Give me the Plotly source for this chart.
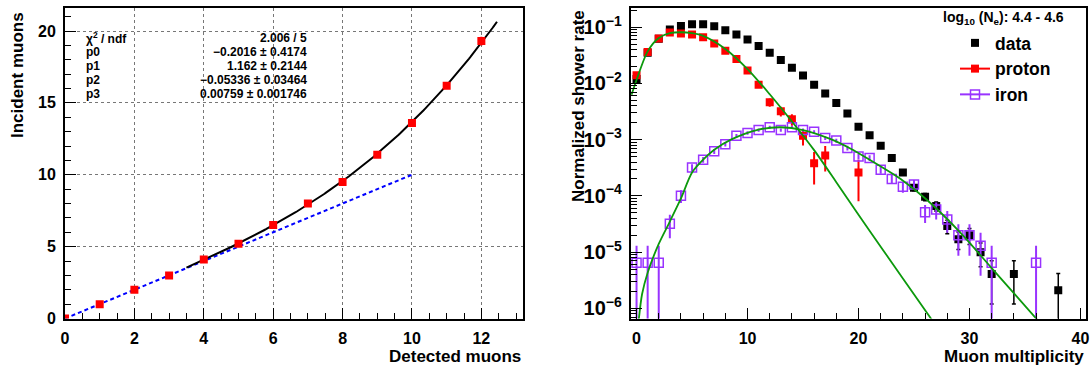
import plotly.graph_objects as go
import numpy as np

# ---------------- Left panel data ----------------
detected = [0, 1, 2, 3, 4, 5, 6, 7, 8, 9, 10, 11, 12]
incident = [0.0, 1.0, 2.0, 3.0, 4.1, 5.2, 6.5, 8.0, 9.5, 11.4, 13.6, 16.2, 19.3]
incident_err = [0, 0, 0, 0, 0.05, 0.05, 0.08, 0.1, 0.1, 0.15, 0.15, 0.2, 0.3]
fit_names = ["p0", "p1", "p2", "p3"]
fit_params = [-0.2016, 1.162, -0.05336, 0.00759]
fit_errors = [0.4174, 0.2144, 0.03464, 0.001746]
fit_range = [3.5, 12.45]
chi2_ndf = "2.006 / 5"
linear_x = [0, 10]
linear_y = [0, 10]

# ---------------- Right panel data ----------------
mult_data = list(range(0, 33)) + [34, 38]
data_rate = [0.012, 0.035, 0.062, 0.091, 0.105, 0.113, 0.113, 0.104, 0.088, 0.074,
             0.060, 0.046, 0.035, 0.026, 0.019, 0.0138, 0.0095, 0.0066, 0.0045, 0.0029,
             0.0017, 0.0012, 0.00078, 0.00047, 0.00026, 0.00014, 9.6e-5, 6.6e-5, 2.9e-5, 1.7e-5,
             2.0e-5, 1.0e-5, 4.1e-6, 4.1e-6, 2.1e-6]
data_err = [1.6e-4, 2.7e-4, 3.6e-4, 4.3e-4, 4.6e-4, 4.8e-4, 4.8e-4, 4.6e-4, 4.2e-4, 3.9e-4,
            3.5e-4, 3.1e-4, 2.7e-4, 2.3e-4, 2.0e-4, 1.7e-4, 1.4e-4, 1.2e-4, 9.6e-5, 7.7e-5,
            5.9e-5, 5.0e-5, 4.0e-5, 3.1e-5, 2.3e-5, 1.7e-5, 1.4e-5, 1.2e-5, 7.7e-6, 5.9e-6,
            6.4e-6, 4.5e-6, 2.9e-6, 2.9e-6, 2.05e-6]

mult_proton = list(range(0, 18)) + [20]
proton_rate = [0.0139, 0.036, 0.063, 0.080, 0.077, 0.074, 0.066, 0.051, 0.038, 0.027,
               0.017, 0.0095, 0.0046, 0.0032, 0.0023, 0.00117, 0.00038, 0.00052, 0.00026]
proton_err = [1.3e-3, 2.1e-3, 2.8e-3, 3.2e-3, 3.1e-3, 3.0e-3, 2.9e-3, 2.5e-3, 2.2e-3, 1.8e-3,
              1.5e-3, 1.1e-3, 7.6e-4, 6.3e-4, 5.4e-4, 3.8e-4, 2.2e-4, 2.5e-4, 1.8e-4]

mult_iron = list(range(0, 33)) + [36]
iron_rate = [6.5e-6, 6.5e-6, 6.5e-6, 3.2e-5, 1.0e-4, 3.2e-4, 4.4e-4, 6.2e-4, 8.3e-4, 1.17e-3,
             1.31e-3, 1.48e-3, 1.66e-3, 1.48e-3, 1.66e-3, 1.48e-3, 1.38e-3, 1.07e-3, 9.6e-4, 7.1e-4,
             5.0e-4, 4.7e-4, 2.9e-4, 2.0e-4, 1.45e-4, 1.6e-4, 5.1e-5, 5.7e-5, 3.8e-5, 2.0e-5,
             2.0e-5, 1.3e-5, 6.5e-6, 6.5e-6]
iron_err = [6.5e-6, 6.5e-6, 6.5e-6, 1.44e-5, 2.55e-5, 4.6e-5, 5.3e-5, 6.3e-5, 7.3e-5, 8.7e-5,
            9.2e-5, 9.8e-5, 1.04e-4, 9.8e-5, 1.04e-4, 9.8e-5, 9.5e-5, 8.3e-5, 7.9e-5, 6.8e-5,
            5.7e-5, 5.5e-5, 4.3e-5, 3.6e-5, 3.1e-5, 3.2e-5, 1.8e-5, 1.9e-5, 1.6e-5, 1.14e-5,
            1.14e-5, 9.2e-6, 6.5e-6, 6.5e-6]

proton_fit_x = [-0.45, 0, 1, 2, 3, 4, 5, 6, 8, 10, 12, 14, 16, 18, 20, 22, 24, 26.6]
proton_fit_y = [0.0063, 0.0115, 0.037, 0.064, 0.078, 0.081, 0.078, 0.070, 0.041, 0.018,
                0.0064, 0.0021, 6.5e-4, 1.75e-4, 4.6e-5, 1.25e-5, 3.4e-6, 6.3e-7]
iron_fit_x = [0.2, 0.5, 1, 2, 3, 4, 5, 6, 7, 8.5, 11, 13, 15, 17.5, 19.3, 21, 23.8, 26.1, 29.2, 32, 36.1]
iron_fit_y = [6.3e-7, 1.8e-6, 4.3e-6, 1.4e-5, 3.5e-5, 9.0e-5, 2.6e-4, 4.4e-4, 6.6e-4, 1.0e-3,
              1.51e-3, 1.66e-3, 1.48e-3, 1.02e-3, 6.9e-4, 4.4e-4, 2.0e-4, 8.7e-5, 2.2e-5, 5.2e-6, 6.3e-7]

legend_header = "log<sub>10</sub> (N<sub>e</sub>): 4.4 - 4.6"
left_xtitle, left_ytitle = "Detected muons", "Incident muons"
right_xtitle, right_ytitle = "Muon multiplicity", "Normalized shower rate"

# ---------------- Styling ----------------
W, H = 1092, 367
FONT = "Liberation Sans, Arial, Helvetica, sans-serif"
RED = "#ff0000"
VIOLET = "#9933ff"
GREEN = "#0c990c"

def px_x(p):
    return p / W

def px_y(p):
    return 1 - p / H

fig = go.Figure()

# left: linear reference
fig.add_trace(go.Scatter(x=linear_x, y=linear_y, mode="lines",
                         line=dict(color="#0000ff", width=2, dash="4px,3px"),
                         xaxis="x", yaxis="y", showlegend=False))
# left: fit polynomial
xf = np.linspace(fit_range[0], fit_range[1], 200)
yf = sum(p * xf ** i for i, p in enumerate(fit_params))
fig.add_trace(go.Scatter(x=xf, y=yf, mode="lines", line=dict(color="black", width=2),
                         xaxis="x", yaxis="y", showlegend=False))
# left: points
fig.add_trace(go.Scatter(x=detected, y=incident, mode="markers",
                         marker=dict(symbol="square", size=8, color=RED),
                         error_y=dict(type="data", array=incident_err, color=RED, thickness=2, width=0),
                         xaxis="x", yaxis="y", showlegend=False, cliponaxis=True))

# right: data
fig.add_trace(go.Scatter(x=mult_data, y=data_rate, mode="markers", name="data",
                         marker=dict(symbol="square", size=8, color="black"),
                         error_y=dict(type="data", array=data_err, color="black", thickness=1.5, width=2),
                         xaxis="x2", yaxis="y2", showlegend=True))
# right: proton
fig.add_trace(go.Scatter(x=mult_proton, y=proton_rate, mode="markers",
                         marker=dict(symbol="square", size=8, color=RED),
                         error_y=dict(type="data", array=proton_err, color=RED, thickness=2, width=0),
                         xaxis="x2", yaxis="y2", showlegend=False))
fig.add_trace(go.Scatter(x=[None], y=[None], mode="lines+markers", name="proton",
                         marker=dict(symbol="square", size=8, color=RED),
                         line=dict(color=RED, width=2), xaxis="x2", yaxis="y2"))
# right: iron
fig.add_trace(go.Scatter(x=mult_iron, y=iron_rate, mode="markers",
                         marker=dict(symbol="square-open", size=9, color=VIOLET, line=dict(width=1.5, color=VIOLET)),
                         error_y=dict(type="data", array=iron_err, color=VIOLET, thickness=2, width=0),
                         xaxis="x2", yaxis="y2", showlegend=False))
fig.add_trace(go.Scatter(x=[None], y=[None], mode="lines+markers", name="iron",
                         marker=dict(symbol="square-open", size=9, color=VIOLET, line=dict(width=1.5, color=VIOLET)),
                         line=dict(color=VIOLET, width=2), xaxis="x2", yaxis="y2"))
# right: fits
fig.add_trace(go.Scatter(x=proton_fit_x, y=proton_fit_y, mode="lines",
                         line=dict(color=GREEN, width=1.8, shape="spline", smoothing=0.8),
                         xaxis="x2", yaxis="y2", showlegend=False))
fig.add_trace(go.Scatter(x=iron_fit_x, y=iron_fit_y, mode="lines",
                         line=dict(color=GREEN, width=1.8, shape="spline", smoothing=0.8),
                         xaxis="x2", yaxis="y2", showlegend=False))

tickfont = dict(family=FONT, size=16, color="black", weight="bold")
common = dict(showline=True, linecolor="black", linewidth=2, mirror=True, ticks="inside",
              tickcolor="black", tickwidth=1, zeroline=False, tickfont=tickfont, automargin=False)

ydom = [px_y(318.5), px_y(8)]
fig.update_layout(
    width=W, height=H, margin=dict(l=0, r=0, t=0, b=0),
    paper_bgcolor="white", plot_bgcolor="white",
    font=dict(family=FONT, size=17, color="black", weight="bold"),
    xaxis=dict(domain=[px_x(65), px_x(523)], range=[0, 13.2], dtick=2, tick0=0, ticklen=11,
               showgrid=True, gridcolor="#777777", griddash="dot", gridwidth=1,
               minor=dict(dtick=0.5, ticks="inside", ticklen=6, tickcolor="black", showgrid=False),
               ticklabelstandoff=4, anchor="y", **common),
    yaxis=dict(domain=ydom, range=[0, 21.6], dtick=5, tick0=0, ticklen=11,
               showgrid=True, gridcolor="#777777", griddash="dot", gridwidth=1,
               minor=dict(dtick=1, ticks="inside", ticklen=6, tickcolor="black", showgrid=False),
               ticklabelstandoff=4, anchor="x", **common),
    xaxis2=dict(domain=[px_x(631), px_x(1086)], range=[-0.5, 40.5], dtick=10, tick0=0, ticklen=11,
                showgrid=False,
                minor=dict(dtick=2, ticks="inside", ticklen=6, tickcolor="black", showgrid=False),
                ticklabelstandoff=4, anchor="y2", **common),
    yaxis2=dict(domain=ydom, type="log", range=[-6.18, -0.66], dtick=1, exponentformat="power",
                ticklen=11, showgrid=False,
                minor=dict(ticks="inside", ticklen=6, tickcolor="black", showgrid=False),
                ticklabelstandoff=4, anchor="x2", **common),
    legend=dict(x=px_x(955), y=px_y(25), xanchor="left", yanchor="top",
                bgcolor="rgba(0,0,0,0)", borderwidth=0, itemwidth=30,
                font=dict(family=FONT, size=17.5, color="black", weight="bold"),
                tracegroupgap=0),
    showlegend=True,
)

ann = []
title_font = dict(family=FONT, size=17, color="black", weight="bold")
ann.append(dict(text=left_ytitle, x=px_x(18), y=px_y(10), xanchor="center", yanchor="top",
                textangle=-90, font=title_font))
ann.append(dict(text=left_xtitle, x=px_x(523), y=px_y(356), xanchor="right", yanchor="middle",
                font=title_font))
ann.append(dict(text=right_ytitle, x=px_x(578), y=px_y(8), xanchor="center", yanchor="top",
                textangle=-90, font=title_font))
ann.append(dict(text=right_xtitle, x=px_x(1086), y=px_y(356), xanchor="right", yanchor="middle",
                font=title_font))
ann.append(dict(text=legend_header, x=px_x(941), y=px_y(18), xanchor="left", yanchor="middle",
                font=dict(family=FONT, size=14, color="black", weight="bold")))

# statistics box
def fmt(v):
    return str(v).replace("-", "\u2212")

stat_labels = ["\u03c7<sup>2</sup> / ndf"] + fit_names
stat_values = [chi2_ndf] + [f"{fmt(p)} \u00b1 {fmt(e)}" for p, e in zip(fit_params, fit_errors)]
sfont = dict(family=FONT, size=12, color="black", weight="bold")
for i, (lab, val) in enumerate(zip(stat_labels, stat_values)):
    yy = px_y(38 + 14 * i)
    ann.append(dict(text=lab, x=px_x(84), y=yy, xanchor="left", yanchor="middle", font=sfont))
    ann.append(dict(text=val, x=px_x(309), y=yy, xanchor="right", yanchor="middle", font=sfont))

for a in ann:
    a.update(xref="paper", yref="paper", showarrow=False)
fig.update_layout(annotations=ann)

fig.write_html("out.html", config={"displayModeBar": False},
               post_script="document.body.style.margin='0px';document.body.style.overflow='hidden';")
